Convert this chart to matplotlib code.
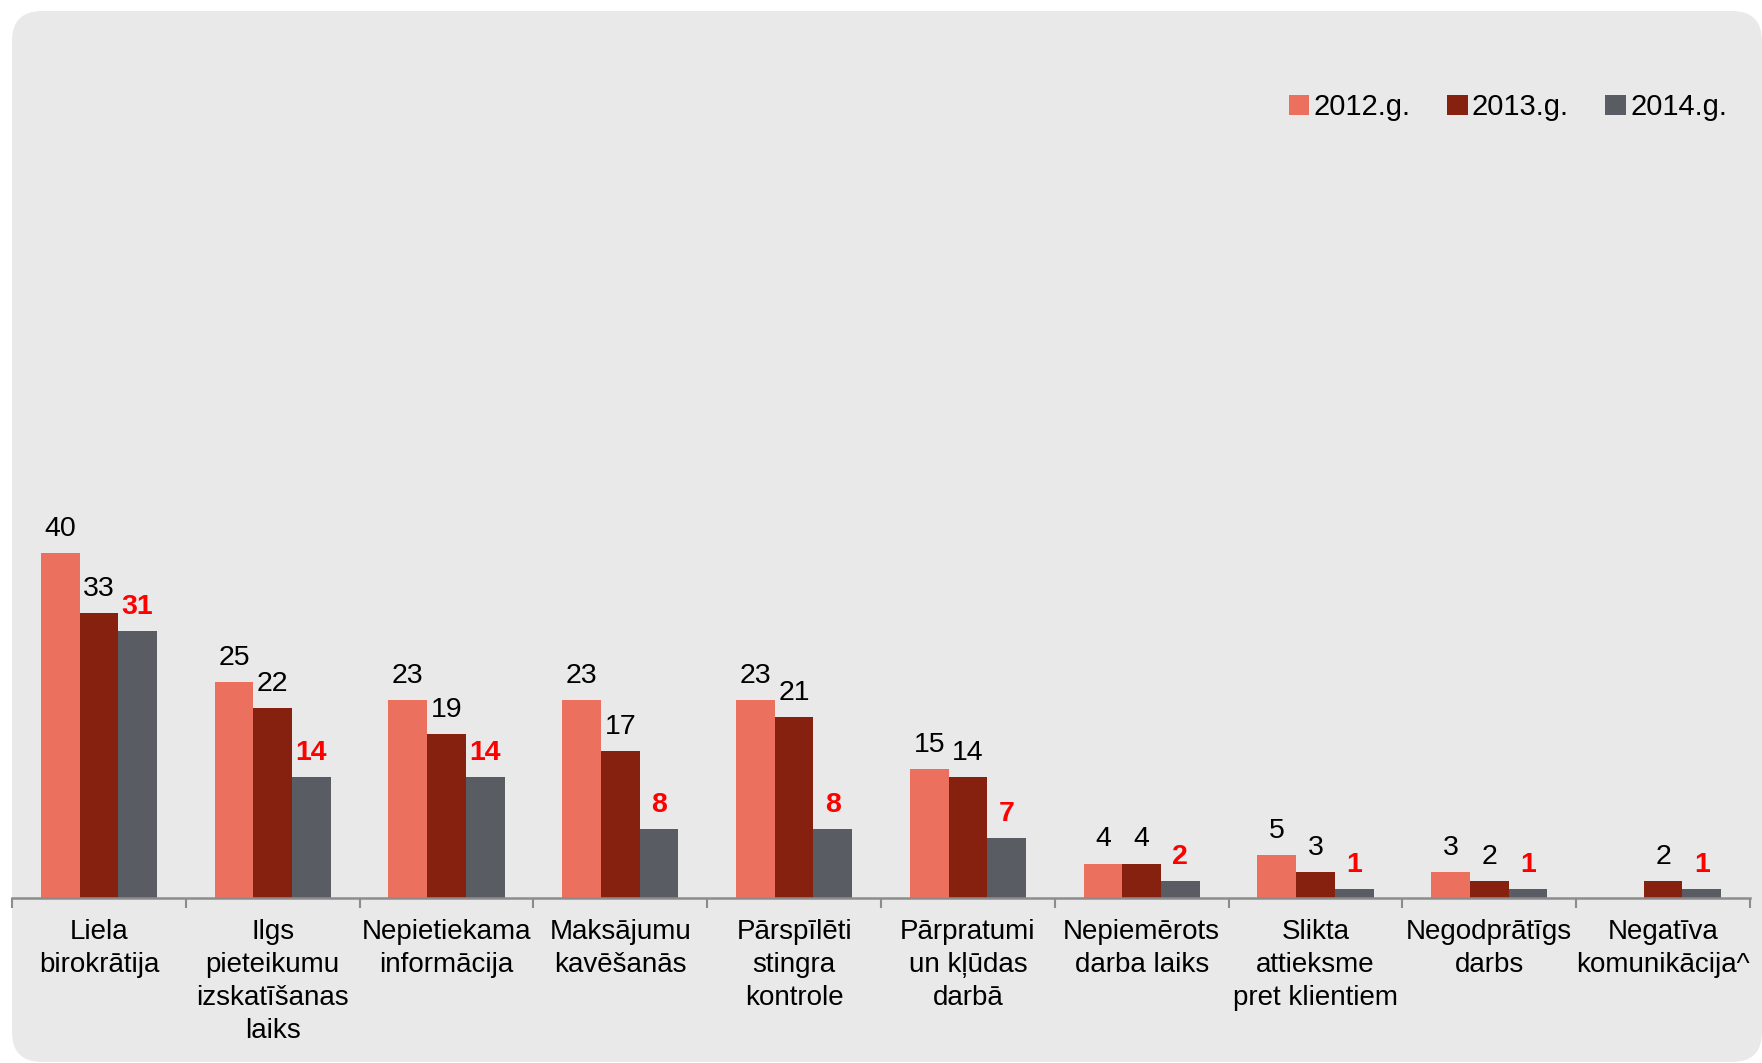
import numpy as np
import matplotlib
matplotlib.use('Agg')
from matplotlib import pyplot as plt
from matplotlib.patches import FancyBboxPatch

plt.rcParams['font.family'] = ['Liberation Sans', 'DejaVu Sans']

# survey answers, one entry per problem
categories = ['Liela\nbirokrātija', 'Ilgs\npieteikumu\nizskatīšanas\nlaiks',
              'Nepietiekama\ninformācija', 'Maksājumu\nkavēšanās',
              'Pārspīlēti\nstingra\nkontrole', 'Pārpratumi\nun kļūdas\ndarbā',
              'Nepiemērots\ndarba laiks', 'Slikta\nattieksme\npret klientiem',
              'Negodprātīgs\ndarbs', 'Negatīva\nkomunikācija^']
y2012 = [40, 25, 23, 23, 23, 15, 4, 5, 3, np.nan]
y2013 = [33, 22, 19, 17, 21, 14, 4, 3, 2, 2]
y2014 = [31, 14, 14, 8, 8, 7, 2, 1, 1, 1]
years = ['2012.g.', '2013.g.', '2014.g.']

colors = ['#EB705D', '#86200F', '#5A5C64']
label_colors = ['black', 'black', '#FF0000']
label_weights = ['normal', 'normal', 'bold']

fig = plt.figure(figsize=(17.62, 10.63), dpi=100)
fig.patch.set_facecolor('white')
bg = FancyBboxPatch((0.12, 0.01), 17.5, 10.51, boxstyle='round,pad=0,rounding_size=0.3',
                    transform=fig.dpi_scale_trans, facecolor='#E9E9E9', edgecolor='none', zorder=-5)
fig.patches.append(bg)

ax = fig.add_axes([12 / 1762, 165 / 1063, 1738 / 1762, 690 / 1063])
ax.set_facecolor('none')
x = np.arange(len(categories))
w = 0.2225
for k, vals in enumerate([y2012, y2013, y2014]):
    pos = x + (k - 1) * w
    ax.bar(pos, vals, width=w, color=colors[k], label=years[k], zorder=2)
    for xi, v in zip(pos, vals):
        if np.isnan(v):
            continue
        ax.annotate(f'{v:g}', (xi, v), xytext=(0, 8), textcoords='offset points',
                    ha='center', va='bottom', fontsize=20.5, color=label_colors[k],
                    fontweight=label_weights[k])

ax.set_xlim(-0.5, len(categories) - 0.5)
ax.set_ylim(0, 80)
for s in ['top', 'right', 'left']:
    ax.spines[s].set_visible(False)
ax.spines['bottom'].set_color('#8C8C8C')
ax.spines['bottom'].set_linewidth(1.8)
ax.set_yticks([])
ax.set_xticks(x)
ax.set_xticklabels(categories, fontsize=20, linespacing=1.36)
ax.tick_params(axis='x', which='major', length=0, pad=15)
ax.set_xticks(np.arange(-0.5, len(categories)), minor=True)
ax.tick_params(axis='x', which='minor', length=7, width=1.5, color='#8C8C8C', direction='out')

ax.legend(loc='center', bbox_to_anchor=(1508 / 1762, 1 - 107 / 1063), bbox_transform=fig.transFigure,
          ncol=3, frameon=False, fontsize=21, handlelength=0.7, handleheight=0.7,
          handletextpad=0.15, columnspacing=1.25)

fig.savefig('out.png', dpi=100)
